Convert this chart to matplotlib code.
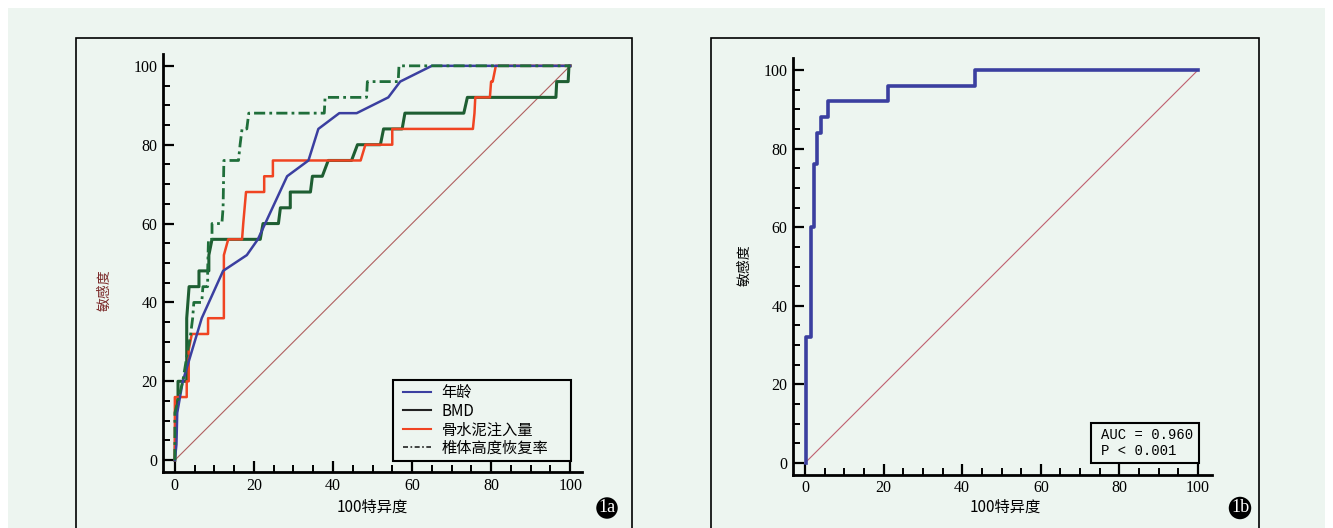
import matplotlib
matplotlib.use("Agg")
import matplotlib.pyplot as plt
from matplotlib.lines import Line2D
from matplotlib.patches import Rectangle
from matplotlib.ticker import MultipleLocator

# ---------------- data ----------------
age_x = [0, 0.4, 0.6, 1.3, 2.0, 3.8, 6.8, 12.2, 18.2, 21.0, 28.4, 33.8, 36.3, 41.6, 46.0, 54.0, 57.0, 65.0, 100]
age_y = [0, 4, 12, 16, 20, 26, 36, 48, 52, 56, 72, 76, 84, 88, 88, 92, 96, 100, 100]

bmd_x = [0, 0.3, 0.8, 0.8, 3.0, 3.0, 3.6, 6.1, 6.1, 8.6, 8.6, 9.4, 21.6, 22.3, 26.2, 26.7, 29.2, 29.2,
         34.3, 34.8, 37.3, 38.8, 44.7, 46.2, 52.0, 52.8, 57.5, 58.2, 73.1, 74.0, 96.4, 96.6, 99.5, 99.7, 100]
bmd_y = [0, 12, 16, 20, 20, 36, 44, 44, 48, 48, 52, 56, 56, 60, 60, 64, 64, 68,
         68, 72, 72, 76, 76, 80, 80, 84, 84, 88, 88, 92, 92, 96, 96, 100, 100]

cement_x = [0, 0, 3.0, 3.0, 3.5, 3.5, 4.3, 8.4, 8.4, 12.4, 12.4, 13.5, 17.0, 17.3, 18.0, 22.6, 22.6, 24.8, 24.8,
            47.0, 48.2, 55.0, 55.0, 75.4, 75.8, 76.0, 79.7, 80.0, 80.4, 81.2, 100]
cement_y = [0, 16, 16, 20, 20, 28, 32, 32, 36, 36, 52, 56, 56, 60, 68, 68, 72, 72, 76,
            76, 80, 80, 84, 84, 88, 92, 92, 96, 96, 100, 100]

height_x = [0, 0, 1.0, 2.0, 3.3, 4.0, 4.5, 4.8, 6.8, 7.1, 8.3, 8.3, 8.4, 8.5, 9.4, 9.4, 11.9, 12.2, 12.4,
            16.1, 16.5, 17.0, 18.2, 18.7, 37.8, 38.0, 48.5, 48.7, 56.5, 56.7, 100]
height_y = [0, 12, 16, 20, 28, 32, 36, 40, 40, 44, 44, 48, 52, 56, 56, 60, 60, 64, 76,
            76, 80, 84, 84, 88, 88, 92, 92, 96, 96, 100, 100]

roc_x = [0.3, 0.3, 1.5, 1.5, 2.4, 2.4, 3.0, 3.0, 4.2, 4.2, 5.9, 5.9, 21.2, 21.2, 43.3, 43.3, 100]
roc_y = [0, 32, 32, 60, 60, 76, 76, 84, 84, 88, 88, 92, 92, 96, 96, 100, 100]

diag = [0, 100]
xticks = [0, 20, 40, 60, 80, 100]
yticks = [0, 20, 40, 60, 80, 100]
legend_labels = ["年龄", "BMD", "骨水泥注入量", "椎体高度恢复率"]
auc_text = "AUC = 0.960\nP < 0.001"
xlabel = "100特异度"
ylabel = "敏感度"

# ---------------- figure ----------------
W, H = 1333, 528
fig = plt.figure(figsize=(W / 100, H / 100), dpi=100, facecolor="white")
BG = "#EDF5F0"
fig.patches.append(Rectangle((8 / W, 0), (1325 - 8) / W, (H - 8) / H, transform=fig.transFigure,
                             facecolor=BG, edgecolor="none", zorder=-10))
# panel boxes
for x0, x1 in [(76, 632), (711, 1259)]:
    fig.patches.append(Rectangle((x0 / W, -0.05), (x1 - x0) / W, (H - 38) / H + 0.05, transform=fig.transFigure,
                                 facecolor="none", edgecolor="black", lw=1.2, zorder=5))

num_font = "Liberation Serif"
cjk = ["Noto Sans CJK SC", "DejaVu Sans"]


def style_axes(ax, xlim, ylim, lblsize):
    ax.set_facecolor("none")
    ax.set_xlim(*xlim)
    ax.set_ylim(*ylim)
    for s in ["top", "right"]:
        ax.spines[s].set_visible(False)
    for s in ["left", "bottom"]:
        ax.spines[s].set_linewidth(2.0)
    ax.set_xticks(xticks)
    ax.set_yticks(yticks)
    ax.xaxis.set_minor_locator(MultipleLocator(5))
    ax.yaxis.set_minor_locator(MultipleLocator(5))
    ax.tick_params(which="major", direction="in", length=8, width=1.6, labelsize=lblsize, pad=4)
    ax.tick_params(which="minor", direction="in", length=5, width=1.4)
    for lab in ax.get_xticklabels() + ax.get_yticklabels():
        lab.set_fontfamily(num_font)


# ---------- left panel ----------
axL = fig.add_axes([163 / W, (H - 472) / H, (582 - 163) / W, (472 - 54) / H])
style_axes(axL, (-3, 103), (-3, 103), 11.5)
axL.plot(diag, diag, color="#B06060", lw=0.8, zorder=1)
axL.plot(bmd_x, bmd_y, color="#1E5E32", lw=2.2, zorder=3)
axL.plot(cement_x, cement_y, color="#F04422", lw=1.8, zorder=4)
axL.plot(age_x, age_y, color="#3B3FA0", lw=1.8, zorder=5)
axL.plot(height_x, height_y, color="#1F6E3A", lw=2.0, ls=(0, (4, 1.5, 1, 1.5)), zorder=6)

# legend frame (drawn separately to get the reference's wide box)
axL.add_patch(Rectangle((55.1, -0.25), 100.25 - 55.1, 20.3 + 0.25, facecolor=BG, edgecolor="black",
                        lw=1.5, zorder=9, clip_on=False))
handles = [Line2D([], [], color="#3B3FA0", lw=1.5),
           Line2D([], [], color="#222222", lw=1.5),
           Line2D([], [], color="#F04422", lw=1.5),
           Line2D([], [], color="#222222", lw=1.2, ls=(0, (3, 1.5, 1, 1.5)))]
leg = axL.legend(handles, legend_labels, loc="center left", bbox_to_anchor=((403 - 163) / 419, (472 - 420.5) / 418),
                 frameon=False, prop={"family": cjk, "size": 11},
                 labelspacing=0.1, handlelength=1.8, handletextpad=0.72, borderpad=0,
                 borderaxespad=0)
leg.set_zorder(10)

fig.text(372 / W, 1 - 507 / H, xlabel, ha="center", va="center", fontsize=11, family=cjk)
fig.text(105 / W, 1 - 290 / H, ylabel, ha="center", va="center", fontsize=10, family=cjk,
         rotation=90, color="#7A2828")

# ---------- right panel ----------
axR = fig.add_axes([793.2 / W, (H - 474.8) / H, (1211.8 - 793.2) / W, (474.8 - 58.2) / H])
style_axes(axR, (-3, 103.5), (-3, 103), 11.5)
axR.plot(diag, diag, color="#C06070", lw=0.8, zorder=1)
axR.plot(roc_x, roc_y, color="#3B3FA0", lw=2.6, zorder=3)

axR.text(1101 / W, 1 - 443 / H, auc_text, transform=fig.transFigure, ha="left", va="center",
         fontsize=10, family="Liberation Mono", linespacing=1.25, zorder=10)
fig.patches.append(Rectangle((1091 / W, 1 - 463 / H), (1199 - 1091) / W, (463 - 423) / H,
                             transform=fig.transFigure, facecolor="none", edgecolor="black", lw=1.5, zorder=6))

fig.text(1005 / W, 1 - 507 / H, xlabel, ha="center", va="center", fontsize=11, family=cjk)
fig.text(745 / W, 1 - 265 / H, ylabel, ha="center", va="center", fontsize=10, family=cjk, rotation=90)

# ---------- badges ----------
for cx, lab in [(607, "1a"), (1240, "1b")]:
    fig.text(cx / W, 1 - 508 / H, lab, ha="center", va="center", color="white", fontsize=13,
             family=num_font, zorder=8,
             bbox=dict(boxstyle="circle,pad=0.12", facecolor="black", edgecolor="none"))

fig.savefig("out.png", dpi=100, facecolor=fig.get_facecolor())
